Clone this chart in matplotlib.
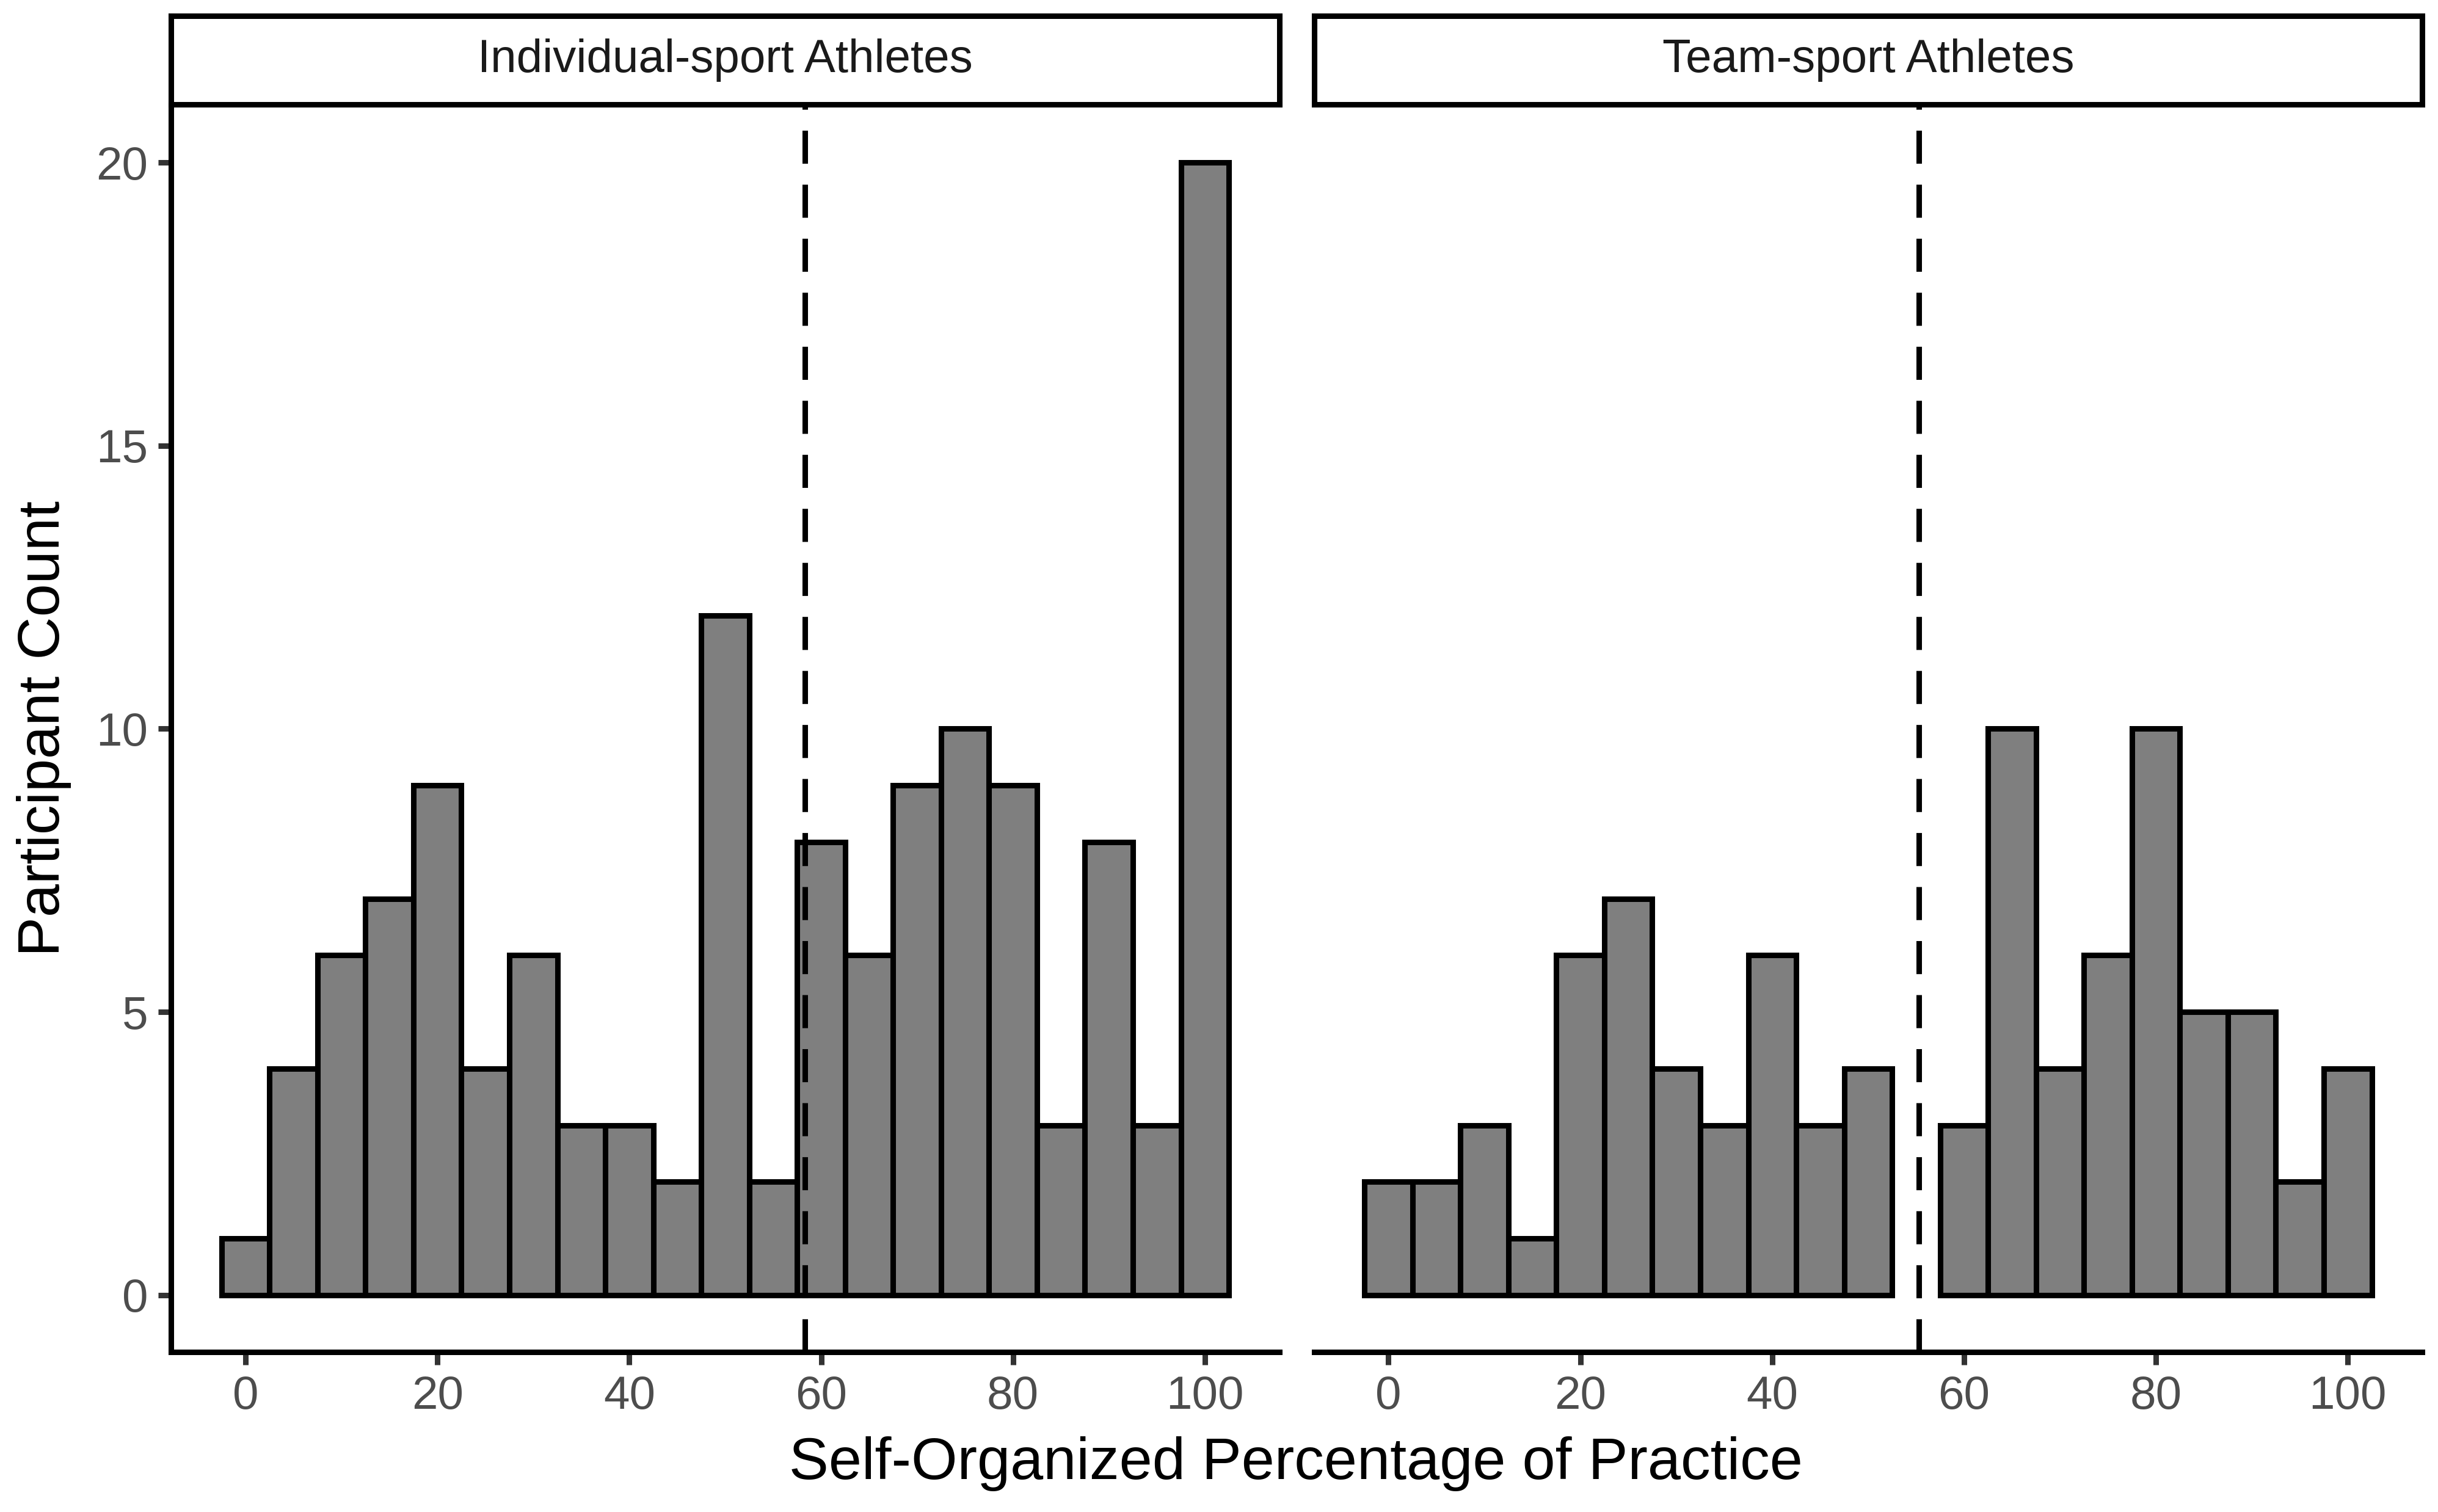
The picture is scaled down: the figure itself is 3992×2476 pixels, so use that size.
import matplotlib
matplotlib.use("Agg")
import matplotlib.pyplot as plt

# Histogram bins (width 5) and counts
bin_centers = [0, 5, 10, 15, 20, 25, 30, 35, 40, 45, 50,
               55, 60, 65, 70, 75, 80, 85, 90, 95, 100]
individual_counts = [1, 4, 6, 7, 9, 4, 6, 3, 3, 2, 12,
                     2, 8, 6, 9, 10, 9, 3, 8, 3, 20]
team_counts = [2, 2, 3, 1, 6, 7, 4, 3, 6, 3, 4,
               0, 3, 10, 4, 6, 10, 5, 5, 2, 4]
individual_mean = 58.3
team_mean = 55.3

panel_titles = ["Individual-sport Athletes", "Team-sport Athletes"]
x_ticks = [0, 20, 40, 60, 80, 100]
y_ticks = [0, 5, 10, 15, 20]

plt.rcParams['font.family'] = ['Liberation Sans', 'DejaVu Sans']

fig = plt.figure(figsize=(15.968, 9.904), dpi=250)

lw = 2.6
tick_col = "#333333"
label_col = "#4D4D4D"

panels = [
    (0.0702, individual_counts, individual_mean, panel_titles[0]),
    (0.5390, team_counts, team_mean, panel_titles[1]),
]
panel_w = 0.4545
panel_b = 0.106
panel_h = 0.824

for i, (left, counts, mean, title) in enumerate(panels):
    ax = fig.add_axes([left, panel_b, panel_w, panel_h])
    # empty bins get no outline, like ggplot
    edge_w = [lw if c > 0 else 0 for c in counts]
    ax.bar(bin_centers, counts, width=5, color="#7F7F7F",
           edgecolor="black", linewidth=edge_w, zorder=2)
    ax.axvline(mean, color="black", linewidth=lw,
               dashes=(6, 3.8), zorder=3)
    ax.set_xlim(-7.75, 107.75)
    ax.set_ylim(-1, 21)
    ax.set_xticks(x_ticks)
    ax.set_yticks(y_ticks)
    for s in ["top", "right"]:
        ax.spines[s].set_visible(False)
    ax.spines["bottom"].set_linewidth(lw)
    ax.spines["left"].set_linewidth(lw)
    ax.tick_params(axis="both", length=6, width=lw, color=tick_col,
                   labelsize=22, labelcolor=label_col, pad=5)
    if i == 1:
        ax.spines["left"].set_visible(False)
        ax.tick_params(axis="y", left=False, labelleft=False)

    # facet strip
    sax = fig.add_axes([left, 0.931, panel_w, 0.0587])
    sax.set_xticks([])
    sax.set_yticks([])
    for s in sax.spines.values():
        s.set_linewidth(lw)
        s.set_color("black")
    sax.text(0.5, 0.5, title, ha="center", va="center",
             fontsize=22, color="#1A1A1A", transform=sax.transAxes)

fig.text(0.018, 0.518, "Participant Count", rotation=90,
         ha="center", va="center", fontsize=28)
fig.text(0.5315, 0.032, "Self-Organized Percentage of Practice",
         ha="center", va="center", fontsize=28)

fig.savefig("out.png", dpi=250, facecolor="white")
